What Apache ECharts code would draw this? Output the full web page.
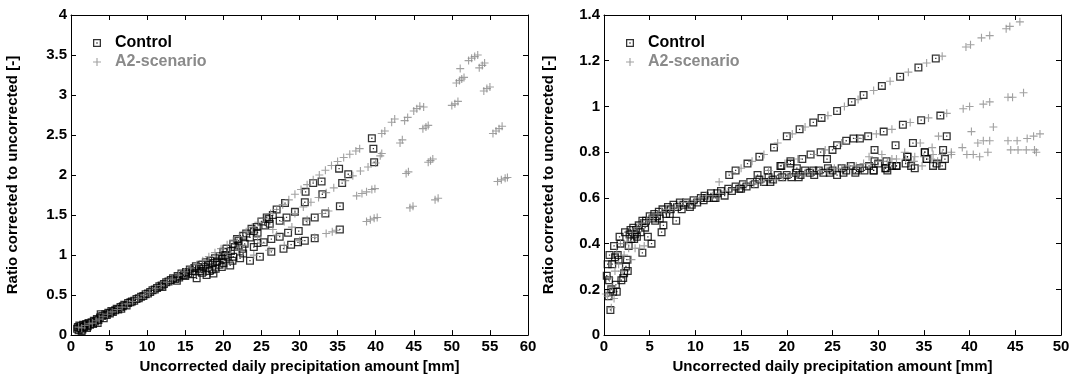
<!DOCTYPE html>
<html lang="en">
<head>
    <meta charset="UTF-8">
    <title>Ratio corrected to uncorrected</title>
    <script src="https://cdn.jsdelivr.net/npm/echarts@6.0.0/dist/echarts.min.js"></script>
    <style>
        body {
            margin: 0;
            background: #fff;
        }
        #chart {
            width: 1073px;
            height: 379px;
        }
    </style>
</head>
<body>
    <div id="chart"></div>

    <script>
        // left panel: x 0-60, y 0-4
        const leftControl = [
            [0.8,0.08],[0.9,0.1],[1.0,0.06],[1.1,0.12],[1.2,0.09],[1.3,0.11],[1.5,0.07],[1.6,0.13],[1.7,0.1],[1.9,0.12],
            [2.0,0.14],[2.2,0.11],[2.3,0.15],[2.5,0.13],[2.7,0.16],[2.9,0.14],[3.0,0.18],[3.2,0.17],[3.4,0.2],[3.6,0.19],
            [3.8,0.22],[3.9,0.26],[4.1,0.24],[4.3,0.21],[4.5,0.26],[4.7,0.25],[4.9,0.28],[5.1,0.27],[5.3,0.3],[5.5,0.29],
            [5.8,0.31],[6.0,0.33],[6.2,0.32],[6.5,0.35],[6.8,0.36],[7.0,0.38],[7.3,0.37],[7.5,0.4],[7.8,0.41],[8.0,0.42],
            [8.3,0.43],[8.6,0.45],[8.9,0.46],[9.2,0.48],[9.5,0.49],[9.8,0.51],[10.1,0.52],[10.4,0.54],[10.7,0.56],[11.0,0.57],
            [11.3,0.59],[11.6,0.61],[11.9,0.62],[12.2,0.64],[12.5,0.66],[12.8,0.67],[13.1,0.69],[13.4,0.71],[13.7,0.7],[14.0,0.74],
            [14.2,0.72],[14.5,0.77],[14.8,0.75],[15.1,0.79],[15.4,0.77],[15.6,0.82],[15.9,0.8],[16.2,0.84],[16.5,0.71],[16.4,0.86],
            [16.8,0.83],[17.0,0.8],[17.1,0.88],[17.4,0.85],[17.8,0.75],[17.7,0.91],[18.0,0.88],[18.3,0.93],[18.5,0.82],[18.7,0.77],
            [18.6,0.9],[18.9,0.96],[19.2,0.92],[19.5,0.99],[19.5,0.88],[19.8,0.85],[19.9,0.95],[20.0,1.04],[20.2,1.0],[20.4,1.08],
            [20.9,0.87],[20.6,0.98],[21.0,1.05],[21.3,1.14],[21.3,0.98],[21.5,1.1],[21.8,1.2],[22.0,1.12],[22.0,1.18],[22.5,1.08],
            [22.6,1.24],[22.6,1.02],[22.8,1.14],[23.0,1.27],[23.5,1.22],[23.5,0.93],[23.7,1.33],[24.0,1.1],[24.0,1.3],[24.4,1.35],
            [24.5,1.28],[24.5,1.15],[24.8,0.98],[25.0,1.42],[25.3,1.16],[25.5,1.37],[25.7,1.47],[26.0,1.45],[26.1,1.39],[26.3,1.04],
            [26.3,1.2],[26.5,1.5],[27.0,1.57],[27.4,1.43],[27.4,1.23],[27.9,1.08],[28.1,1.65],[28.3,1.47],[28.5,1.28],[28.9,1.13],
            [29.4,1.54],[29.8,1.16],[29.9,1.3],[30.7,1.66],[30.7,1.18],[30.8,1.79],[30.9,1.42],[31.8,1.9],[32.0,1.47],[32.0,1.21],
            [32.9,1.92],[33.0,1.76],[33.4,1.52],[35.2,2.08],[35.3,1.61],[35.3,1.32],[35.6,1.9],[36.4,2.01],[39.5,2.46],[39.7,2.33],
            [39.8,2.16],
            [1.4,0.05],[2.1,0.09],[3.5,0.15],[6.6,0.33],[12.0,0.6],[13.9,0.68],[15.0,0.74],[16.0,0.76],[17.2,0.78],[18.2,0.8],
            [19.0,0.83],[20.0,0.9],[21.2,0.93],[22.2,0.96]
        ];

        const leftA2 = [
            [1.0,0.1],[1.4,0.09],[1.8,0.12],[2.4,0.14],[2.8,0.15],[3.3,0.18],[3.7,0.2],[4.2,0.23],[4.8,0.26],[5.4,0.29],
            [6.1,0.32],[6.7,0.35],[7.4,0.39],[8.1,0.42],[8.8,0.46],[9.6,0.5],[10.3,0.53],[11.1,0.58],[11.8,0.62],[12.6,0.66],
            [13.3,0.7],[14.1,0.75],[14.9,0.79],[15.7,0.84],[16.5,0.88],[17.3,0.93],[18.1,0.98],[18.9,1.03],[19.7,1.08],[20.5,1.13],
            [21.3,1.18],[22.1,1.23],[23.0,1.29],[23.8,1.35],[24.6,1.41],[25.4,1.46],[26.2,1.52],[27.0,1.57],[27.8,1.63],[28.6,1.69],
            [29.4,1.76],[30.2,1.82],[31.0,1.88],[31.8,1.94],[32.6,2.0],[33.4,2.06],[34.2,2.12],[35.0,2.17],[35.8,2.22],[36.6,2.26],
            [37.4,2.3],[37.9,2.33],[40.8,2.52],[41.2,2.55],[42.1,2.66],[42.5,2.7],[43.8,2.68],[44.2,2.72],[45.0,2.8],[45.4,2.83],
            [45.8,2.86],[46.3,2.85],[50.0,2.87],[50.4,2.89],[50.8,2.92],[50.6,3.15],[51.0,3.18],[51.3,3.2],[51.6,3.22],[51.1,3.33],
            [52.2,3.43],[52.6,3.46],[53.0,3.48],[53.4,3.5],[53.6,3.34],[54.0,3.37],[54.3,3.4],[54.2,3.05],[54.6,3.08],[55.0,3.1],
            [55.4,2.52],[55.8,2.55],[56.2,2.58],[56.6,2.61],[56.0,1.92],[56.5,1.94],[57.0,1.96],[57.3,1.97],
            [20.5,1.02],[22.5,1.12],[24.5,1.22],[26.5,1.32],[28.0,1.42],[29.4,1.52],[30.5,1.6],[31.5,1.66],[32.5,1.72],[33.5,1.78],
            [34.5,1.84],[36.0,1.93],[37.0,1.99],[38.0,2.05],[39.0,2.1],[40.0,2.15],[40.6,2.24],[40.8,2.27],[43.2,2.4],[43.5,2.44],
            [46.2,2.58],[46.6,2.6],[46.9,2.62],
            [22.0,1.06],[25.0,1.15],[27.0,1.25],[29.0,1.35],[31.0,1.44],[33.0,1.52],[33.8,1.55],[37.5,1.74],[38.2,1.77],[38.8,1.79],
            [39.5,1.82],[39.9,1.83],[44.0,2.02],[44.3,2.04],[46.9,2.16],[47.2,2.18],[47.5,2.2],
            [24.0,1.0],[26.0,1.06],[28.0,1.12],[30.0,1.18],[32.0,1.22],[33.5,1.27],[34.3,1.29],[34.8,1.31],[38.8,1.42],[39.3,1.44],
            [39.8,1.46],[40.2,1.47],[44.5,1.59],[44.9,1.61],[47.8,1.69],[48.2,1.71]
        ];

        // right panel: x 0-50, y 0-1.4
        const rightControl = [
            [0.3,0.26],[0.4,0.31],[0.5,0.17],[0.55,0.24],[0.6,0.35],[0.7,0.11],[0.8,0.2],[0.9,0.31],[1.0,0.19],[1.1,0.39],
            [1.2,0.34],[1.3,0.22],[1.4,0.19],[1.5,0.35],[1.6,0.33],[1.7,0.43],[1.8,0.4],[1.9,0.24],[2.1,0.25],[2.2,0.27],
            [2.3,0.45],[2.4,0.3],[2.5,0.33],[2.6,0.28],[2.7,0.39],[2.8,0.44],[3.0,0.42],[3.2,0.47],[3.4,0.44],[3.5,0.46],
            [3.6,0.43],[3.8,0.48],[4.0,0.45],[4.2,0.5],[4.2,0.36],[4.4,0.49],[4.6,0.5],[4.8,0.43],[5.0,0.52],[5.2,0.4],
            [5.3,0.51],[5.5,0.53],[5.8,0.52],[6.0,0.54],[6.3,0.45],[6.5,0.48],[6.4,0.55],[6.8,0.53],[7.0,0.56],[7.3,0.55],
            [7.6,0.57],[7.9,0.5],[8.0,0.56],[8.3,0.58],[8.7,0.57],[9.0,0.58],[9.4,0.56],[9.8,0.59],[10.2,0.58],[10.6,0.6],
            [11.0,0.61],[11.3,0.6],[11.7,0.62],[12.0,0.6],[12.4,0.62],[12.8,0.63],[13.2,0.61],[13.6,0.64],[14.0,0.63],[14.4,0.65],
            [14.8,0.64],[15.2,0.66],[15.6,0.65],[16.0,0.67],[16.5,0.66],[17.0,0.68],[17.5,0.67],[18.0,0.69],[18.5,0.68],[19.0,0.7],
            [19.5,0.69],[20.0,0.7],[20.5,0.69],[21.0,0.71],[21.5,0.7],[22.0,0.72],[22.5,0.71],[23.0,0.7],[23.5,0.72],[24.0,0.71],
            [24.5,0.73],[25.0,0.72],[25.5,0.7],[26.0,0.73],[26.5,0.72],[27.0,0.74],[27.5,0.71],[28.0,0.73],[28.5,0.72],[29.0,0.74],
            [29.5,0.72],[30.0,0.75],[30.8,0.73],[31.5,0.74],[32.0,0.74],[33.0,0.75],[33.2,0.78],[34.0,0.73],[35.1,0.8],[35.3,0.77],
            [36.0,0.74],[37.1,0.81],[37.3,0.77],[37.0,0.74],
            [13.7,0.7],[14.4,0.72],[15.7,0.75],[17.0,0.78],[18.6,0.82],[20.0,0.87],[21.4,0.9],[22.9,0.93],[23.8,0.95],[25.5,0.98],
            [27.1,1.02],[28.4,1.05],[30.4,1.09],[32.4,1.13],[34.4,1.17],[36.3,1.21],
            [16.8,0.7],[17.9,0.72],[19.3,0.74],[20.4,0.76],[21.7,0.77],[22.6,0.79],[23.7,0.8],[25.0,0.81],[25.5,0.83],[26.5,0.85],
            [27.3,0.86],[28.0,0.86],[28.9,0.87],[30.6,0.89],[32.7,0.92],[34.7,0.94],[36.8,0.96],
            [29.6,0.81],[31.9,0.83],[33.8,0.84],[37.5,0.87],[33.2,0.78],[35.1,0.8],[30.9,0.76],[29.6,0.76],[35.3,0.77],[32.0,0.74],
            [30.8,0.73],[29.5,0.72],[27.6,0.72],[24.4,0.77],[20.4,0.75],[19.4,0.74],[21.1,0.73],[22.9,0.72],[24.7,0.71],
            [2.9,0.46],[3.3,0.42],[4.5,0.47],[5.6,0.5],[6.1,0.51],[7.2,0.53],[8.5,0.55],[9.6,0.57],[10.9,0.59],[12.2,0.6],
            [15.0,0.64],[18.2,0.67],[21.3,0.69],[26.2,0.71],[31.0,0.72],[33.6,0.74],[36.4,0.75]
        ];

        const rightA2 = [
            [0.2,0.18],[0.4,0.17],[0.6,0.25],[0.8,0.12],[0.9,0.21],[1.1,0.16],[1.2,0.28],[1.4,0.36],[1.6,0.31],[1.8,0.4],
            [2.0,0.28],[2.2,0.35],[2.5,0.41],[2.7,0.38],[3.0,0.33],[3.1,0.45],[3.4,0.38],[3.6,0.47],[3.9,0.38],[4.1,0.49],
            [4.4,0.39],[4.7,0.5],[5.0,0.51],[5.4,0.52],[5.9,0.53],[6.3,0.54],[6.8,0.55],[7.2,0.55],[7.7,0.56],[8.2,0.57],
            [8.7,0.58],[9.3,0.58],[9.9,0.59],[10.5,0.6],[11.2,0.61],[11.9,0.61],[12.6,0.67],[12.6,0.62],[13.3,0.63],[14.0,0.64],
            [14.8,0.65],[15.6,0.66],[16.4,0.66],[17.2,0.67],[18.0,0.68],[18.8,0.68],[19.6,0.69],[20.4,0.7],[21.2,0.7],[22.0,0.71],
            [22.8,0.71],[23.6,0.72],[24.4,0.72],[25.2,0.73],[26.0,0.73],[26.8,0.74],[27.6,0.74],[28.4,0.75],[29.2,0.75],[30.0,0.76],
            [31.0,0.76],[32.0,0.77],[33.0,0.77],[34.0,0.78],[35.0,0.78],[36.0,0.79],[37.0,0.79],[38.0,0.8],
            [35.9,0.82],[36.6,0.87],[38.0,0.79],[39.2,0.82],[39.7,0.79],[40.2,0.89],[40.4,0.79],[40.9,0.84],[41.1,0.78],[41.5,0.85],
            [42.0,0.8],[42.2,0.85],[42.6,0.91],[44.2,0.85],[44.5,0.81],[45.2,0.85],[45.3,0.81],[46.2,0.81],[46.3,0.86],[47.0,0.87],
            [47.1,0.81],[47.3,0.8],[47.7,0.88],
            [14.0,0.71],[15.0,0.73],[16.2,0.76],[17.5,0.79],[19.0,0.84],[20.6,0.88],[22.0,0.91],[24.5,0.96],[26.3,1.0],[27.8,1.03],
            [29.5,1.07],[31.3,1.11],[33.3,1.15],[35.3,1.19],[37.0,1.22],[39.6,1.26],[40.1,1.27],[41.3,1.3],[42.2,1.31],[44.0,1.34],
            [44.4,1.35],[45.5,1.37],
            [18.0,0.72],[19.8,0.75],[21.2,0.77],[23.0,0.79],[24.2,0.81],[26.0,0.84],[27.8,0.86],[29.8,0.88],[31.5,0.9],[33.5,0.93],
            [35.5,0.95],[37.5,0.97],[39.3,0.99],[40.0,1.0],[41.5,1.01],[42.2,1.02],[44.2,1.04],[44.7,1.04],[45.9,1.06],
            [30.4,0.79],[32.9,0.8],[34.6,0.84],[35.8,0.77],[33.9,0.76],[31.5,0.77],[29.0,0.78],[36.5,0.76],[34.8,0.74]
        ];

        const leftX = { min: 0, max: 60, interval: 5 };
        const leftY = { min: 0, max: 4, interval: 0.5 };
        const rightX = { min: 0, max: 50, interval: 5 };
        const rightY = { min: 0, max: 1.4, interval: 0.2 };

        const xTitle = 'Uncorrected daily precipitation amount [mm]';
        const yTitle = 'Ratio corrected to uncorrected [-]';

        const font = 'Liberation Sans, Arial, sans-serif';
        // hollow square with a dot in the middle, and a thin plus
        const squareSym = 'path://M0,0L10,0L10,10L0,10Z M1.6,1.6L1.6,8.4L8.4,8.4L8.4,1.6Z M4.2,4.2L5.8,4.2L5.8,5.8L4.2,5.8Z';
        const plusSym = 'path://M0,4.3L10,4.3L10,5.7L0,5.7Z M4.3,0L5.7,0L5.7,10L4.3,10Z';
        const grey = '#8a8a8a';

        function mainAxis(grid, range, pos, name, gap) {
            return {
                type: 'value', gridIndex: grid, position: pos,
                min: range.min, max: range.max, interval: range.interval,
                axisLine: { onZero: false, lineStyle: { color: '#000', width: 1 } },
                axisTick: { inside: true, length: 5, lineStyle: { color: '#000' } },
                axisLabel: { fontSize: 15, fontWeight: 'bold', color: '#000', fontFamily: font, margin: 4 },
                splitLine: { show: false },
                name: name, nameLocation: 'middle', nameGap: gap,
                nameTextStyle: { fontSize: 15, fontWeight: 'bold', color: '#000', fontFamily: font }
            };
        }

        function boxAxis(grid, range, pos) {
            return {
                type: 'value', gridIndex: grid, position: pos,
                min: range.min, max: range.max, interval: range.interval,
                axisLine: { onZero: false, lineStyle: { color: '#000', width: 1 } },
                axisTick: { inside: true, length: 5, lineStyle: { color: '#000' } },
                axisLabel: { show: false },
                splitLine: { show: false }
            };
        }

        function legendAt(left) {
            return {
                left: left, top: 30, orient: 'vertical',
                itemWidth: 8, itemHeight: 8, itemGap: 3,
                textStyle: { fontSize: 16, fontWeight: 'bold', fontFamily: font, padding: [0, 0, 0, 9] },
                data: [
                    { name: 'Control', textStyle: { color: '#000' } },
                    { name: 'A2-scenario', textStyle: { color: grey } }
                ]
            };
        }

        const chart = echarts.init(document.getElementById('chart'));
        chart.setOption({
            animation: false,
            backgroundColor: '#fff',
            grid: [
                { left: 71, top: 15, width: 457, height: 324 },
                { left: 604, top: 15, width: 457, height: 324 }
            ],
            legend: [legendAt(88), legendAt(621)],
            xAxis: [
                mainAxis(0, leftX, 'bottom', xTitle, 21),
                boxAxis(0, leftX, 'top'),
                mainAxis(1, rightX, 'bottom', xTitle, 21),
                boxAxis(1, rightX, 'top')
            ],
            yAxis: [
                mainAxis(0, leftY, 'left', yTitle, 51),
                boxAxis(0, leftY, 'right'),
                mainAxis(1, rightY, 'left', yTitle, 48),
                boxAxis(1, rightY, 'right')
            ],
            series: [
                { name: 'Control', type: 'scatter', xAxisIndex: 0, yAxisIndex: 0, data: leftControl,
                  symbol: squareSym, symbolSize: 8, itemStyle: { color: '#000' } },
                { name: 'A2-scenario', type: 'scatter', xAxisIndex: 0, yAxisIndex: 0, data: leftA2,
                  symbol: plusSym, symbolSize: 8, itemStyle: { color: grey } },
                { name: 'Control', type: 'scatter', xAxisIndex: 2, yAxisIndex: 2, data: rightControl,
                  symbol: squareSym, symbolSize: 8, itemStyle: { color: '#000' } },
                { name: 'A2-scenario', type: 'scatter', xAxisIndex: 2, yAxisIndex: 2, data: rightA2,
                  symbol: plusSym, symbolSize: 8, itemStyle: { color: grey } }
            ]
        });
    </script>
</body>
</html>
